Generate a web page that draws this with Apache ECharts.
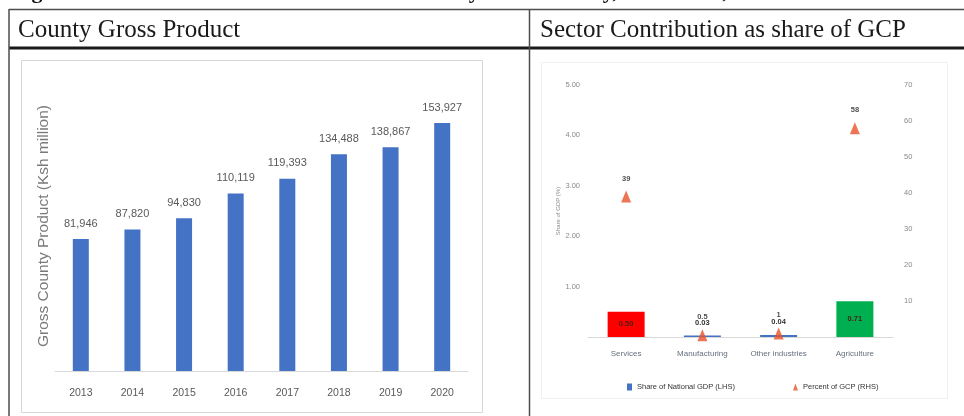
<!DOCTYPE html>
<html>
<head>
<meta charset="utf-8">
<title>County Gross Product and Sector Contribution</title>
<script src="https://cdn.jsdelivr.net/npm/echarts@6/dist/echarts.min.js"></script>
<style>
  html, body { margin: 0; padding: 0; background: #fff; }
  #chart { width: 964px; height: 416px; }
</style>
</head>
<body>
<div id="chart"></div>
<script>
// County Gross Product, Ksh million
const years = ['2013', '2014', '2015', '2016', '2017', '2018', '2019', '2020'];
const gcp = [81946, 87820, 94830, 110119, 119393, 134488, 138867, 153927];

// Sector contribution (2020)
const sectors = ['Services', 'Manufacturing', 'Other industries', 'Agriculture'];
const shareOfNationalGdp = [0.50, 0.03, 0.04, 0.71];   // left axis
const percentOfGcp = [39, 0.5, 1, 58];                 // right axis
const sectorBarColors = ['#FF0000', '#4472C4', '#4472C4', '#00B050'];
const insideLabelSectors = ['Services', 'Agriculture'];

const sans = '"Liberation Sans", "DejaVu Sans", sans-serif';
const serif = '"Liberation Serif", "DejaVu Serif", serif';

const chart = echarts.init(document.getElementById('chart'), null, { renderer: 'canvas' });

const lineColor = '#4d4d4d';

const option = {
  backgroundColor: '#ffffff',
  animation: false,
  graphic: {
    elements: [
      // caption running above the table (its lower edge only)
      { type: 'text', x: 12, y: 3, z: 10,
        style: { text: 'Figure 4: Size and Structure of Economic Activity in the County, 2013\u20132020, 2020',
                 font: 'bold 22px ' + serif, fill: '#111', verticalAlign: 'bottom' } },
      // table frame
      { type: 'line', shape: { x1: 9, y1: 9.5, x2: 964, y2: 9.5 }, style: { stroke: lineColor, lineWidth: 1.5 } },
      { type: 'line', shape: { x1: 9, y1: 48, x2: 964, y2: 48 }, style: { stroke: '#1a1a1a', lineWidth: 3 } },
      { type: 'line', shape: { x1: 9, y1: 9, x2: 9, y2: 416 }, style: { stroke: lineColor, lineWidth: 1.5 } },
      { type: 'line', shape: { x1: 529.5, y1: 9, x2: 529.5, y2: 416 }, style: { stroke: lineColor, lineWidth: 1.5 } },
      // header cells
      { type: 'text', x: 18, y: 30,
        style: { text: 'County Gross Product', font: '25px ' + serif, fill: '#1a1a1a', verticalAlign: 'middle' } },
      { type: 'text', x: 540, y: 30,
        style: { text: 'Sector Contribution as share of GCP', font: '25px ' + serif, fill: '#1a1a1a', verticalAlign: 'middle' } },
      // chart panels
      { type: 'rect', shape: { x: 21.5, y: 60.5, width: 461, height: 352 }, z: -1,
        style: { fill: '#ffffff', stroke: '#d6d6d6', lineWidth: 1 } },
      { type: 'rect', shape: { x: 541.5, y: 62.5, width: 406, height: 336 }, z: -1,
        style: { fill: '#ffffff', stroke: '#f0f0f0', lineWidth: 1 } }
    ]
  },
  legend: {
    data: [
      { name: 'Share of National GDP (LHS)', icon: 'rect' },
      { name: 'Percent of GCP (RHS)', icon: 'triangle' }
    ],
    left: 622, top: 378,
    itemWidth: 5, itemHeight: 7, itemGap: 58,
    textStyle: { fontFamily: sans, fontSize: 7.5, color: '#333' }
  },
  grid: [
    { left: 55, top: 81, width: 413, height: 290 },
    { left: 588, top: 85, width: 305, height: 252 }
  ],
  xAxis: [
    { type: 'category', gridIndex: 0, data: years,
      axisLine: { lineStyle: { color: '#d9d9d9', width: 1 } },
      axisTick: { show: false },
      axisLabel: { color: '#595959', fontSize: 10.5, margin: 17, fontFamily: sans } },
    { type: 'category', gridIndex: 1, data: sectors,
      axisLine: { lineStyle: { color: '#d9d9d9', width: 1 } },
      axisTick: { show: false },
      axisLabel: { color: '#66707e', fontSize: 8, margin: 13, interval: 0, fontFamily: sans } }
  ],
  yAxis: [
    { type: 'value', gridIndex: 0, min: 0, max: 180000,
      axisLine: { show: false }, axisTick: { show: false },
      axisLabel: { show: false }, splitLine: { show: false },
      name: 'Gross County Product (Ksh million)', nameLocation: 'middle', nameGap: 3,
      nameTextStyle: { color: '#7a7a7a', fontSize: 15.5, fontFamily: sans } },
    { type: 'value', gridIndex: 1, position: 'left', min: 0, max: 5, interval: 1,
      axisLine: { show: false }, axisTick: { show: false }, splitLine: { show: false },
      axisLabel: { formatter: v => v.toFixed(2), showMinLabel: false, color: '#8a8a8a',
                   fontSize: 7.5, margin: 8, fontFamily: sans },
      name: 'Share of GDP (%)', nameLocation: 'middle', nameGap: 27,
      nameTextStyle: { color: '#8a8a8a', fontSize: 6, fontFamily: sans } },
    { type: 'value', gridIndex: 1, position: 'right', min: 0, max: 70, interval: 10,
      axisLine: { show: false }, axisTick: { show: false }, splitLine: { show: false },
      axisLabel: { showMinLabel: false, color: '#8a8a8a', fontSize: 7.5, margin: 11, fontFamily: sans } }
  ],
  series: [
    { name: 'County Gross Product', type: 'bar', xAxisIndex: 0, yAxisIndex: 0,
      data: gcp, barWidth: 16,
      itemStyle: { color: '#4472C4' },
      label: { show: true, position: 'top', distance: 10, color: '#595959', fontSize: 11, fontFamily: sans,
               formatter: p => p.value.toLocaleString('en-US') } },
    { name: 'Share of National GDP (LHS)', type: 'bar', xAxisIndex: 1, yAxisIndex: 1,
      barWidth: 37,
      itemStyle: { color: '#4472C4' },
      data: shareOfNationalGdp.map((v, i) => {
        const inside = insideLabelSectors.includes(sectors[i]);
        return {
          value: v,
          itemStyle: { color: sectorBarColors[i] },
          label: inside
            ? { position: 'inside', color: '#4a1f12' }
            : { position: 'top', distance: 9, color: '#333' }
        };
      }),
      label: { show: true, fontSize: 7.5, fontWeight: 'bold', fontFamily: sans,
               formatter: p => p.value.toFixed(2) } },
    { name: 'Percent of GCP (RHS)', type: 'scatter', xAxisIndex: 1, yAxisIndex: 2,
      data: percentOfGcp, symbol: 'triangle', symbolSize: [10, 12],
      itemStyle: { color: '#E8532B' },
      label: { show: true, position: 'top', distance: 8, color: '#222', fontSize: 7.5, fontWeight: 'bold',
               fontFamily: sans } }
  ]
};

chart.setOption(option);
</script>
</body>
</html>
